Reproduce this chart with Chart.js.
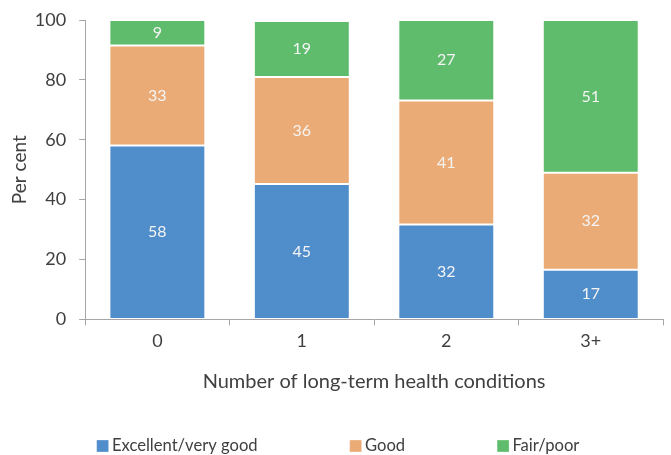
<!DOCTYPE html>
<html>
<head>
<meta charset="utf-8">
<script src="https://cdn.jsdelivr.net/npm/chart.js@4.4.1/dist/chart.umd.min.js"></script>
<style>
  body { margin: 0; background: #ffffff; }
  #wrap { width: 671px; height: 455px; }
</style>
</head>
<body>
<div id="wrap"><canvas id="healthChart" width="671" height="455"></canvas></div>
<script>
// categorias y valores
var categorias = ['0', '1', '2', '3+'];
var excelente = [58.1, 45.2, 31.7, 16.6];
var bueno = [33.4, 35.8, 41.4, 32.4];
var regular = [8.5, 18.7, 26.9, 51.0];
var ticksY = [0, 20, 40, 60, 80, 100];

var fuente = 'Lato, "Open Sans", sans-serif';
var colorTexto = '#404040';
var colorEje = '#a6a6a6';

var ALTO_LEYENDA = 22;
var CENTRO_LEYENDA_X = 340.5;
var CENTRO_LEYENDA_Y = 446;

// etiquetas dentro de cada segmento
var etiquetasPlugin = {
    id: 'etiquetas',
    afterDatasetsDraw: function(chart) 
    {
        var ctx = chart.ctx;
        ctx.save();
        ctx.font = '16px ' + fuente;
        ctx.fillStyle = '#f4f4f4';
        ctx.textAlign = 'center';
        ctx.textBaseline = 'middle';
        chart.data.datasets.forEach(function(ds, i) 
        {
            var meta = chart.getDatasetMeta(i);
            meta.data.forEach(function(el, j) 
            {
                var y = (el.y + el.base) / 2;
                ctx.fillText(Math.round(ds.data[j]), el.x, y);
            });
        });
        ctx.restore();
    }
};

// la leyenda usa mucho espacio horizontal entre items pero poca altura
var leyendaPlugin = {
    id: 'ajusteLeyenda',
    beforeUpdate: function(chart) 
    {
        var lg = chart.legend;
        if (lg && !lg.fitOriginal) 
        {
            lg.fitOriginal = lg.fit;
            lg.fit = function() 
            {
                var mw = this.maxWidth;
                this.maxWidth = 2000;   // todo en una sola fila
                this.fitOriginal();
                this.maxWidth = mw;
                this.width = mw;
                this.height = ALTO_LEYENDA;
            };
        }
    },
    afterLayout: function(chart) 
    {
        var lg = chart.legend;
        var pad = lg.options.labels.padding;
        var tam = lg.options.labels.font.size;
        lg.left = CENTRO_LEYENDA_X - 500;
        lg.right = CENTRO_LEYENDA_X + 500;
        lg.top = CENTRO_LEYENDA_Y - tam / 2 - pad;
    }
};

var ctx = document.getElementById('healthChart').getContext('2d');
var chart = new Chart(ctx, {
    type: 'bar',
    data: {
        labels: categorias,
        datasets: [
            {
                label: 'Excellent/very good',
                data: excelente,
                backgroundColor: '#508dcb',
                borderColor: 'rgba(255,255,255,0.3)',
                borderWidth: 1,
                borderSkipped: false
            },
            {
                label: 'Good',
                data: bueno,
                backgroundColor: '#eaab76',
                borderColor: 'rgba(255,255,255,0.3)',
                borderWidth: 1,
                borderSkipped: false
            },
            {
                label: 'Fair/poor',
                data: regular,
                backgroundColor: '#5ebc6c',
                borderColor: 'rgba(255,255,255,0.3)',
                borderWidth: 1,
                borderSkipped: false
            }
        ]
    },
    options: {
        responsive: false,
        animation: false,
        categoryPercentage: 1,
        barPercentage: 0.664,
        layout: {
            padding: { top: 20, left: 8, right: 8, bottom: 0 }
        },
        plugins: {
            tooltip: { enabled: false },
            legend: {
                position: 'bottom',
                labels: {
                    usePointStyle: true,
                    pointStyle: 'rect',
                    boxWidth: 2,
                    boxHeight: 12,
                    padding: 97,
                    color: colorTexto,
                    font: { family: fuente, size: 16.6 }
                }
            }
        },
        scales: {
            x: {
                stacked: true,
                grid: {
                    offset: true,
                    drawOnChartArea: false,
                    drawTicks: true,
                    tickLength: 6,
                    color: colorEje
                },
                border: { color: colorEje, width: 1 },
                ticks: {
                    color: colorTexto,
                    padding: 5,
                    font: { family: fuente, size: 18 }
                },
                title: {
                    display: true,
                    text: 'Number of long-term health conditions',
                    color: colorTexto,
                    font: { family: fuente, size: 20 },
                    padding: { top: 13, bottom: 39 }
                }
            },
            y: {
                stacked: true,
                min: 0,
                max: 100,
                afterBuildTicks: function(axis) 
                {
                    axis.ticks = ticksY.map(function(v) { return { value: v }; });
                },
                grid: {
                    drawOnChartArea: false,
                    drawTicks: true,
                    tickLength: 14,
                    // solo se ven los 6px junto al eje
                    tickBorderDash: [6, 8],
                    tickBorderDashOffset: 6,
                    color: colorEje
                },
                border: { color: colorEje, width: 1 },
                ticks: {
                    color: colorTexto,
                    padding: 5,
                    font: { family: fuente, size: 18 }
                },
                title: {
                    display: true,
                    text: 'Per cent',
                    color: colorTexto,
                    font: { family: fuente, size: 19 },
                    padding: { top: 0, bottom: -1 }
                }
            }
        }
    },
    plugins: [etiquetasPlugin, leyendaPlugin]
});
</script>
</body>
</html>
